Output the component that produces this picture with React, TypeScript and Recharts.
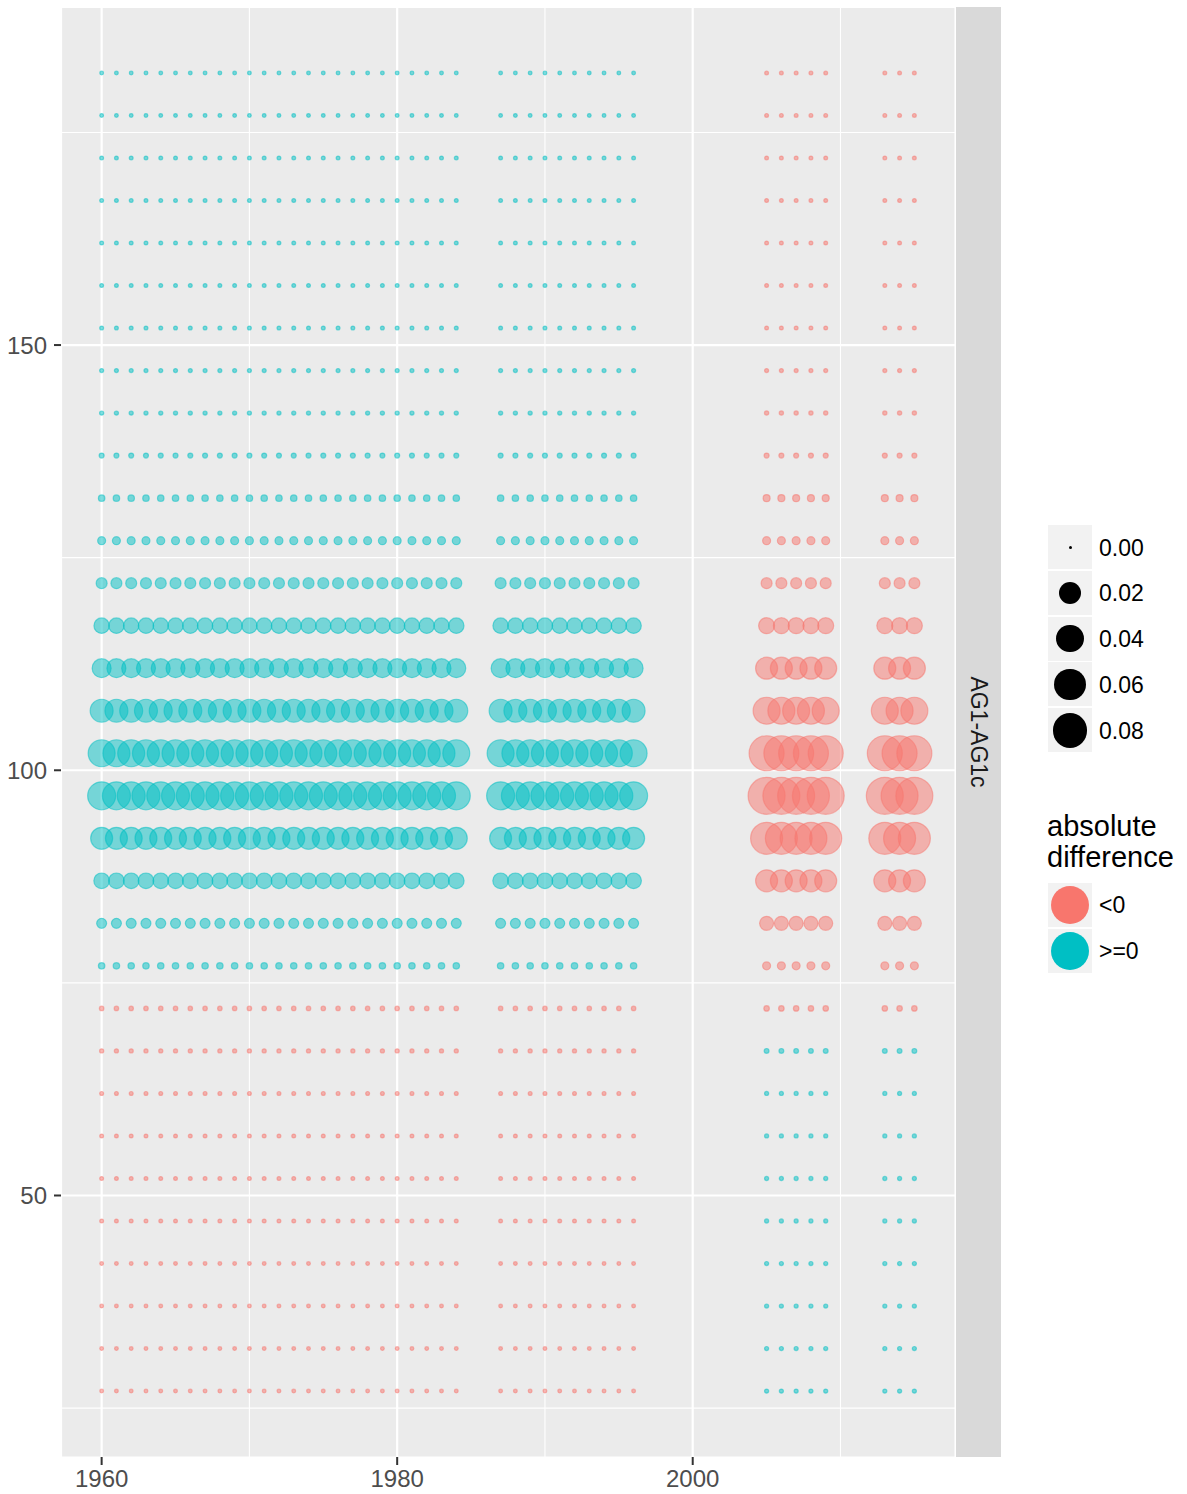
import React from 'react';
import { ScatterChart, Scatter, XAxis, YAxis, CartesianGrid } from 'recharts';

// years observed before / after the break in the series
const earlyYears = [
  1960, 1961, 1962, 1963, 1964, 1965, 1966, 1967, 1968, 1969, 1970, 1971, 1972,
  1973, 1974, 1975, 1976, 1977, 1978, 1979, 1980, 1981, 1982, 1983, 1984,
  1987, 1988, 1989, 1990, 1991, 1992, 1993, 1994, 1995, 1996,
];
const lateYears = [2005, 2006, 2007, 2008, 2009, 2013, 2014, 2015];

const levels = [
  182, 177, 172, 167, 162, 157, 152, 147, 142, 137, 132, 127, 122, 117, 112, 107,
  102, 97, 92, 87, 82, 77, 72, 67, 62, 57, 52, 47, 42, 37, 32, 27,
];

// signed difference for each level (same order as levels)
const earlyDiff = [
  0.000004, 0.000004, 0.000005, 0.000005, 0.000005, 0.000005, 0.000006, 0.000008,
  0.000012, 0.00005, 0.00022, 0.00057, 0.002, 0.0065, 0.0127, 0.0229,
  0.0372, 0.0415, 0.02, 0.0068, 0.0014, 0.00022, -0.000023, -0.000012,
  -0.000006, -0.000005, -0.000005, -0.000005, -0.000004, -0.000004, -0.000004, -0.000004,
];
const lateDiff = [
  -0.000005, -0.000005, -0.000005, -0.000005, -0.000005, -0.000005, -0.000005, -0.000008,
  -0.000015, -0.00005, -0.00032, -0.00057, -0.002, -0.0073, -0.02, -0.0372,
  -0.08, -0.094, -0.0616, -0.02, -0.0047, -0.00057, -0.00009, 0.00004,
  0.00001, 0.00001, 0.00001, 0.00001, 0.00001, 0.00001, 0.00001, 0.00001,
];

const xTicks = [1960, 1970, 1980, 1990, 2000, 2010];
const xLabels = [1960, 1980, 2000];
const yTicks = [25, 50, 75, 100, 125, 150, 175];
const yLabels = [50, 100, 150];
const sizeBreaks = [0, 0.02, 0.04, 0.06, 0.08];
const colorLabels = ['<0', '>=0'];

const RED = '#F8766D';
const TEAL = '#00BFC4';
const FONT = '"Liberation Sans", Arial, sans-serif';

const diameter = (v: number) => 3 + 82.7 * Math.pow(Math.abs(v), 0.376);

type Pt = { year: number; level: number; diff: number };
const points: Pt[] = [];
levels.forEach((level, i) => {
  earlyYears.forEach((year) => points.push({ year, level, diff: earlyDiff[i] }));
  lateYears.forEach((year) => points.push({ year, level, diff: lateDiff[i] }));
});
const negPoints = points.filter((p) => p.diff < 0);
const posPoints = points.filter((p) => p.diff >= 0);

const Bubble = (props: any) => {
  const { cx, cy, payload, color } = props;
  return (
    <circle
      cx={cx}
      cy={cy}
      r={diameter(payload.diff) / 2}
      fill={color}
      fillOpacity={0.5}
      stroke={color}
      strokeOpacity={0.5}
      strokeWidth={1.2}
    />
  );
};

const XTick = (props: any) => {
  const { x, y, payload } = props;
  if (!xLabels.includes(payload.value)) return <g />;
  return (
    <g>
      <line x1={x} x2={x} y1={y - 8} y2={y} stroke="#333333" strokeWidth={2} />
      <text x={x} y={y + 22} textAnchor="middle" fill="#4D4D4D" fontSize={24} fontFamily={FONT}>
        {payload.value}
      </text>
    </g>
  );
};

const YTick = (props: any) => {
  const { x, y, payload } = props;
  if (!yLabels.includes(payload.value)) return <g />;
  return (
    <g>
      <line x1={x} x2={x + 7} y1={y} y2={y} stroke="#333333" strokeWidth={2} />
      <text x={x - 7} y={y + 8.5} textAnchor="end" fill="#4D4D4D" fontSize={24} fontFamily={FONT}>
        {payload.value}
      </text>
    </g>
  );
};

// major lines at every other tick, minor lines in between
const vLine = (props: any) => (
  <line
    key={props.key}
    x1={props.x1}
    x2={props.x2}
    y1={props.y1}
    y2={props.y2}
    stroke="#FFFFFF"
    strokeWidth={props.index % 2 === 0 ? 2.2 : 1.1}
  />
);
const hLine = (props: any) => (
  <line
    key={props.key}
    x1={props.x1}
    x2={props.x2}
    y1={props.y1}
    y2={props.y2}
    stroke="#FFFFFF"
    strokeWidth={props.index % 2 === 1 ? 2.2 : 1.1}
  />
);

const legendText: React.CSSProperties = {
  position: 'absolute',
  left: 1099,
  fontFamily: FONT,
  fontSize: 23,
  color: '#000000',
  lineHeight: '45px',
  height: 45,
};

export default function App() {
  return (
    <div style={{ position: 'absolute', left: 0, top: 0, width: 1187, height: 1494, background: '#FFFFFF' }}>
      <ScatterChart width={1187} height={1494} margin={{ top: 7, right: 232, left: 6, bottom: 0 }}>
        <CartesianGrid fill="#EBEBEB" vertical={vLine} horizontal={hLine} />
        <XAxis
          type="number"
          dataKey="year"
          domain={[1957.25, 2017.75]}
          ticks={xTicks}
          interval={0}
          allowDataOverflow
          height={37}
          axisLine={false}
          tickLine={false}
          tickSize={8}
          tickMargin={0}
          tick={<XTick />}
        />
        <YAxis
          type="number"
          dataKey="level"
          domain={[19.25, 189.75]}
          ticks={yTicks}
          interval={0}
          allowDataOverflow
          width={55}
          axisLine={false}
          tickLine={false}
          tickSize={7}
          tickMargin={0}
          tick={<YTick />}
        />
        <Scatter data={posPoints} isAnimationActive={false} shape={(p: any) => <Bubble {...p} color={TEAL} />} />
        <Scatter data={negPoints} isAnimationActive={false} shape={(p: any) => <Bubble {...p} color={RED} />} />
      </ScatterChart>

      {/* facet strip */}
      <div
        style={{
          position: 'absolute',
          left: 956,
          top: 7,
          width: 45,
          height: 1450,
          background: '#D9D9D9',
        }}
      >
        <div
          style={{
            position: 'absolute',
            left: 21.5,
            top: 725,
            transform: 'translate(-50%, -50%) rotate(90deg)',
            fontFamily: FONT,
            fontSize: 23,
            color: '#1A1A1A',
            whiteSpace: 'nowrap',
          }}
        >
          AG1-AG1c
        </div>
      </div>

      {/* size legend */}
      {sizeBreaks.map((b, i) => {
        const d = diameter(b);
        const top = 525 + i * 45.8;
        return (
          <React.Fragment key={b}>
            <div style={{ position: 'absolute', left: 1048, top, width: 44, height: 44, background: '#F2F2F2' }}>
              <div
                style={{
                  position: 'absolute',
                  left: 22 - d / 2,
                  top: 22 - d / 2,
                  width: d,
                  height: d,
                  borderRadius: '50%',
                  background: '#000000',
                }}
              />
            </div>
            <div style={{ ...legendText, top: top + 0.5 }}>{b.toFixed(2)}</div>
          </React.Fragment>
        );
      })}

      {/* colour legend */}
      <div
        style={{
          position: 'absolute',
          left: 1047,
          top: 811,
          fontFamily: FONT,
          fontSize: 29,
          lineHeight: '31px',
          color: '#000000',
        }}
      >
        absolute
        <br />
        difference
      </div>
      {colorLabels.map((lab, i) => {
        const top = 883 + i * 46;
        return (
          <React.Fragment key={lab}>
            <div style={{ position: 'absolute', left: 1048, top, width: 44, height: 44, background: '#F2F2F2' }}>
              <div
                style={{
                  position: 'absolute',
                  left: 3,
                  top: 3,
                  width: 38,
                  height: 38,
                  borderRadius: '50%',
                  background: i === 0 ? RED : TEAL,
                }}
              />
            </div>
            <div style={{ ...legendText, top: top - 0.5 }}>{lab}</div>
          </React.Fragment>
        );
      })}
    </div>
  );
}
